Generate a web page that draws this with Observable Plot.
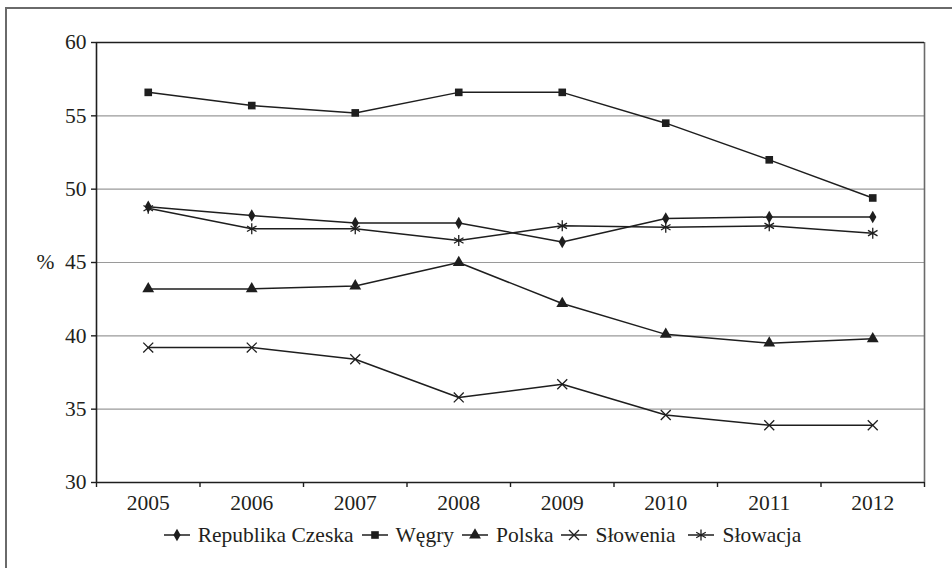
<!DOCTYPE html>
<html>
<head>
<meta charset="utf-8">
<script src="https://cdn.jsdelivr.net/npm/d3@7"></script>
<script src="https://cdn.jsdelivr.net/npm/@observablehq/plot@0.6"></script>
<style>
  html, body { margin: 0; padding: 0; background: #fff; }
  body { width: 952px; height: 568px; overflow: hidden; position: relative; font-family: 'Liberation Serif', serif; color: #231f20; }
  #frame { position: absolute; left: 5px; top: 7px; width: 2000px; height: 2000px; border-left: 2px solid #6a6a6a; border-top: 2px solid #6a6a6a; pointer-events: none; }
  #chart svg { display: block; }
  #legend { display: flex; justify-content: center; align-items: center; gap: 8px; font-family: 'Liberation Serif', serif; font-size: 21.5px; height: 40px; padding-left: 13px; }
  .item { display: flex; align-items: center; gap: 8px; }
  .item svg { display: block; }
</style>
</head>
<body>
<div id="frame"></div>
<div id="chart"></div>
<div id="legend"></div>
<script>
const years = [2005, 2006, 2007, 2008, 2009, 2010, 2011, 2012];
const countries = ["Republika Czeska", "Węgry", "Polska", "Słowenia", "Słowacja"];
const czech    = [48.8, 48.2, 47.7, 47.7, 46.4, 48.0, 48.1, 48.1];
const wegry    = [56.6, 55.7, 55.2, 56.6, 56.6, 54.5, 52.0, 49.4];
const polska   = [43.2, 43.2, 43.4, 45.0, 42.2, 40.1, 39.5, 39.8];
const slowenia = [39.2, 39.2, 38.4, 35.8, 36.7, 34.6, 33.9, 33.9];
const slowacja = [48.7, 47.3, 47.3, 46.5, 47.5, 47.4, 47.5, 47.0];
const yTicks = [30, 35, 40, 45, 50, 55, 60];
const yLabel = "%";

const seriesValues = [czech, wegry, polska, slowenia, slowacja];
const symbols = ["diamond", "square", "triangle", "times", "asterisk"];
const filled = [true, true, true, false, false];
const radii = [3.8, 4.3, 4.4, 4.6, 5.2];

const data = [];
countries.forEach((c, i) => {
  years.forEach((yr, j) => data.push({country: c, year: yr, value: seriesValues[i][j]}));
});

const ink = "#1e1e1e";
const grid = "#9a9a9a";
const font = "'Liberation Serif', serif";
const fs = 21.5;
const xDomain = [years[0] - 0.5, years[years.length - 1] + 0.5];
const boundaries = years.map(y => y - 0.5).concat([years[years.length - 1] + 0.5]);
const yDomain = [yTicks[0], yTicks[yTicks.length - 1]];

const marks = [
  Plot.ruleY(yTicks.slice(1, -1), {stroke: grid, strokeWidth: 1.2}),
  Plot.ruleX([xDomain[1]], {stroke: "#6a6a6a", strokeWidth: 1.6}),
  Plot.ruleY([yDomain[1]], {stroke: ink, strokeWidth: 1.4}),
  Plot.axisX(years, {tickSize: 0, tickPadding: 12, fontSize: fs, fontFamily: font, tickFormat: d => String(d), label: null, color: "#231f20"}),
  Plot.axisX(boundaries, {tickSize: 5, tickFormat: () => "", label: null, stroke: ink, strokeWidth: 1.4}),
  Plot.axisY(yTicks, {tickSize: 5, tickPadding: 5, fontSize: fs, fontFamily: font, label: null, stroke: ink, strokeWidth: 1.4, color: "#231f20"}),
  Plot.ruleY([yDomain[0]], {stroke: ink, strokeWidth: 1.6}),
  Plot.ruleX([xDomain[0]], {stroke: ink, strokeWidth: 1.6}),
  Plot.text([yLabel], {text: d => d, frameAnchor: "left", textAnchor: "middle", y: [(yDomain[0] + yDomain[1]) / 2], dx: -51, fontSize: fs, fontFamily: font, fill: "#231f20"}),
  Plot.line(data, {x: "year", y: "value", z: "country", stroke: ink, strokeWidth: 1.5})
];
countries.forEach((c, i) => {
  const d = data.filter(r => r.country === c);
  marks.push(Plot.dot(d, filled[i]
    ? {x: "year", y: "value", symbol: () => symbols[i], r: radii[i], fill: ink, stroke: "none"}
    : {x: "year", y: "value", symbol: () => symbols[i], r: radii[i], stroke: ink, strokeWidth: 1.3, fill: "none"}));
});

const chart = Plot.plot({
  width: 952,
  height: 515,
  marginLeft: 96,
  marginRight: 28,
  marginTop: 42,
  marginBottom: 33,
  style: {fontFamily: font, fontSize: fs + "px", color: "#231f20", background: "transparent"},
  x: {type: "linear", domain: xDomain},
  y: {domain: yDomain},
  symbol: {type: "ordinal"},
  marks
});
document.getElementById("chart").appendChild(chart);

// Legend
const legend = d3.select("#legend");
const symMap = {diamond: d3.symbolDiamond, square: d3.symbolSquare, triangle: d3.symbolTriangle, times: d3.symbolTimes, asterisk: d3.symbolAsterisk};
countries.forEach((c, i) => {
  const item = legend.append("div").attr("class", "item");
  if (i === 4) item.style("margin-left", "5px");
  const svg = item.append("svg").attr("width", 26).attr("height", 16);
  svg.append("line").attr("x1", 0).attr("x2", 26).attr("y1", 8).attr("y2", 8).attr("stroke", ink).attr("stroke-width", 1.5);
  const size = Math.PI * radii[i] * radii[i];
  svg.append("path")
    .attr("transform", "translate(13,8)")
    .attr("d", d3.symbol(symMap[symbols[i]], size)())
    .attr("fill", filled[i] ? ink : "none")
    .attr("stroke", filled[i] ? "none" : ink)
    .attr("stroke-width", 1.3);
  item.append("span").text(c);
});
</script>
</body>
</html>
